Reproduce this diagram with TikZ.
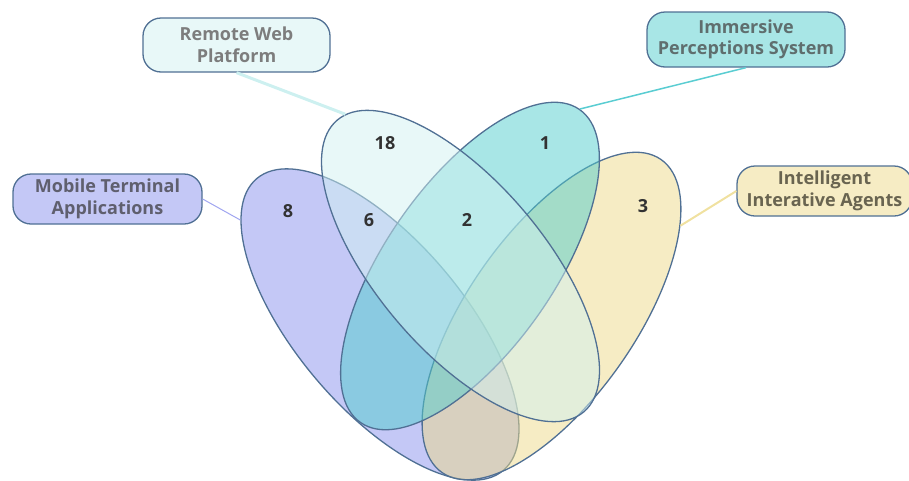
\documentclass[tikz,border=0pt]{standalone}
\usepackage{fontspec}
\setmainfont{Open Sans}
\usepackage{xcolor}
\usepackage{tikz}
\usetikzlibrary{shapes}
\definecolor{vennedge}{RGB}{80, 112, 148}
\definecolor{mobilebg}{RGB}{196, 200, 246}
\definecolor{remotebg}{RGB}{232, 248, 248}
\definecolor{immersbg}{RGB}{168, 230, 230}
\definecolor{agentbg}{RGB}{246, 236, 196}
\definecolor{mobilefill}{RGB}{137, 145, 237}
\definecolor{remotefill}{RGB}{209, 241, 241}
\definecolor{immersfill}{RGB}{81, 205, 205}
\definecolor{agentfill}{RGB}{237, 217, 137}
\definecolor{mobileline}{RGB}{160, 165, 240}
\definecolor{remoteline}{RGB}{205, 240, 240}
\definecolor{immersline}{RGB}{90, 205, 210}
\definecolor{agentline}{RGB}{240, 225, 160}
\definecolor{countgray}{RGB}{50, 50, 50}

\begin{document}
\begin{tikzpicture}[x=1pt, y=-1pt,
    venn/.style={draw=vennedge, line width=1.3pt, ellipse, inner sep=0pt, minimum width=382pt, minimum height=168pt, fill opacity=0.5},
    tag/.style={draw=vennedge, line width=1.3pt, rectangle, rounded corners=18pt, align=center, inner sep=0pt, font=\bfseries\fontsize{18}{21.6}\selectfont},
    count/.style={font=\bfseries\fontsize{18}{20}\selectfont, text=countgray}]
    \useasboundingbox (0,0) rectangle (909,480);

    % the four sets, bottom one first
    \node [venn, fill=mobilefill, rotate=-49.8] (mt) at (380,324.5) {};
    \node [venn, fill=agentfill, rotate=55] (ia) at (551.5,316) {};
    \node [venn, fill=immersfill, rotate=55] (ip) at (470,266) {};
    \node [venn, fill=remotefill, rotate=-49.8] (rw) at (460.5,266) {};

    % counts
    \node [count] (n18) at (385,143) {18};
    \node [count] (n1) at (545,143) {1};
    \node [count] (n8) at (288,211) {8};
    \node [count] (n6) at (369,220) {6};
    \node [count] (n2) at (467,220) {2};
    \node [count] (n3) at (643,206) {3};

    % labels
    \node [tag, fill=remotebg, text={rgb,255:red,125;green,125;blue,125}, minimum width=187pt, minimum height=54pt] (rwl) at (236.5,45) {Remote Web\\Platform};
    \node [tag, fill=immersbg, text={rgb,255:red,95;green,110;blue,110}, minimum width=198pt, minimum height=55pt] (ipl) at (746,39.5) {Immersive\\Perceptions System};
    \node [tag, fill=mobilebg, text={rgb,255:red,95;green,95;blue,110}, minimum width=189pt, minimum height=50pt] (mtl) at (107.5,199) {Mobile Terminal\\Applications};
    \node [tag, fill=agentbg, text={rgb,255:red,105;green,100;blue,80}, minimum width=175pt, minimum height=50pt] (ial) at (824.5,191) {Intelligent\\Interative Agents};

    \draw [remoteline, line width=3pt] (rwl.south) -- (rw.177);
    \draw [immersline, line width=1.5pt] (ipl.south) -- (ip.0);
    \draw [mobileline, line width=1pt] (mtl.east) -- (mt.193);
    \draw [agentline, line width=2pt] (ial.west) -- (ia.340);
\end{tikzpicture}
\end{document}
